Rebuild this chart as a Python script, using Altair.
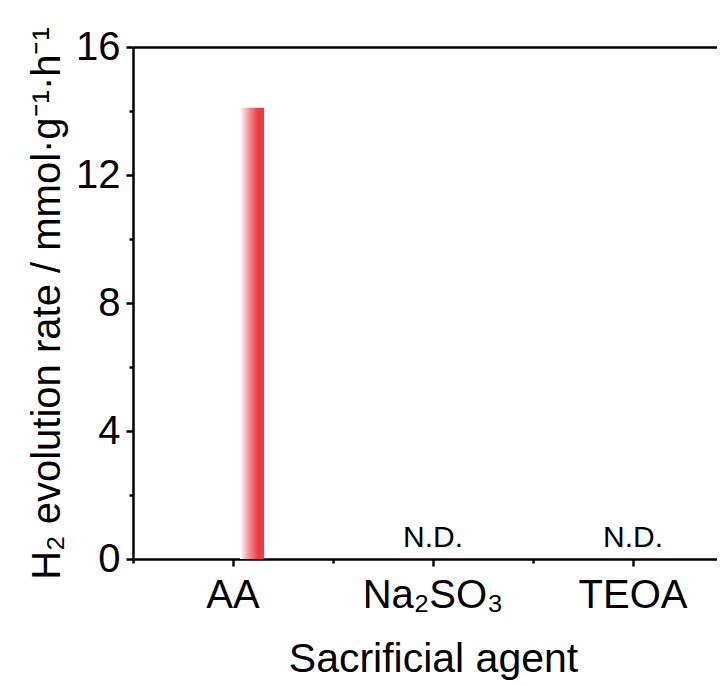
import altair as alt
import pandas as pd

categories = ["AA", "Na₂SO₃", "TEOA"]
rates = [14.1, 0.0, 0.0]
notes = ["", "N.D.", "N.D."]
y_ticks = [0, 2, 4, 6, 8, 10, 12, 14, 16]

df = pd.DataFrame({"agent": categories, "rate": rates, "note": notes})

FONT = "Liberation Sans"
x_scale = alt.Scale(domain=categories, paddingInner=0, paddingOuter=0, range=[0, 600])
y_scale = alt.Scale(domain=[0, 16], nice=False, zero=True)

gradient = alt.Gradient(
    gradient="linear",
    stops=[
        alt.GradientStop(color="#FFFFFF", offset=0),
        alt.GradientStop(color="#F58A8E", offset=0.4),
        alt.GradientStop(color="#EE3C42", offset=0.75),
        alt.GradientStop(color="#EE3C42", offset=1),
    ],
    x1=0, x2=1, y1=0, y2=0,
)

x_major = alt.X(
    "agent:N", scale=x_scale, sort=categories,
    axis=alt.Axis(
        title="Sacrificial agent", orient="bottom", labelAngle=0,
        labelFont=FONT, titleFont=FONT, labelFontSize=40, titleFontSize=41,
        titleFontWeight="normal", labelColor="black", titleColor="black",
        tickSize=7, tickWidth=2.5, tickColor="black",
        domainWidth=2.5, domainColor="black", labelPadding=9, titlePadding=24,
    ),
)
y_major = alt.Y(
    "rate:Q", scale=y_scale,
    axis=alt.Axis(
        title="H₂ evolution rate / mmol·g⁻¹·h⁻¹", values=y_ticks,
        labelExpr="datum.value % 4 === 0 ? datum.label : ''",
        tickSize={"condition": {"test": "datum.value % 4 === 0", "value": 7}, "value": 4},
        labelFont=FONT, titleFont=FONT, labelFontSize=40, titleFontSize=40,
        titleFontWeight="normal", labelColor="black", titleColor="black",
        tickWidth=2.5, tickColor="black", domainWidth=2.5, domainColor="black",
        labelPadding=6, titlePadding=8, grid=False,
    ),
)

bars = alt.Chart(df).transform_filter(alt.datum.rate > 0).mark_bar(
    size=24, xOffset=19, color=gradient
).encode(x=x_major, y=y_major)

x_minor = alt.X(
    "agent:N", scale=x_scale, sort=categories,
    axis=alt.Axis(
        title=None, orient="bottom", labels=False, domain=False,
        tickBand="extent", tickSize=4, tickWidth=2.5, tickColor="black",
    ),
)

notes_layer = alt.Chart(df).mark_text(
    font=FONT, fontSize=30, color="black", dy=-12, baseline="alphabetic"
).encode(x=x_minor, y=y_major, text="note:N")

x_top = alt.X(
    "agent:N", scale=x_scale, sort=categories,
    axis=alt.Axis(
        title=None, orient="top", labels=False, ticks=False,
        domain=True, domainWidth=2.5, domainColor="black",
    ),
)
top_layer = alt.Chart(df).mark_text(text="", opacity=0).encode(x=x_top, y=y_major)

chart = alt.layer(bars, notes_layer, top_layer).resolve_axis(x="independent").properties(
    width=584, height=512,
    autosize=alt.AutoSizeParams(type="none"),
    padding={"left": 125, "top": 39, "right": 0, "bottom": 127},
).configure_view(stroke=None)

chart.save("out.html", embed_options={"renderer": "svg", "actions": False})
